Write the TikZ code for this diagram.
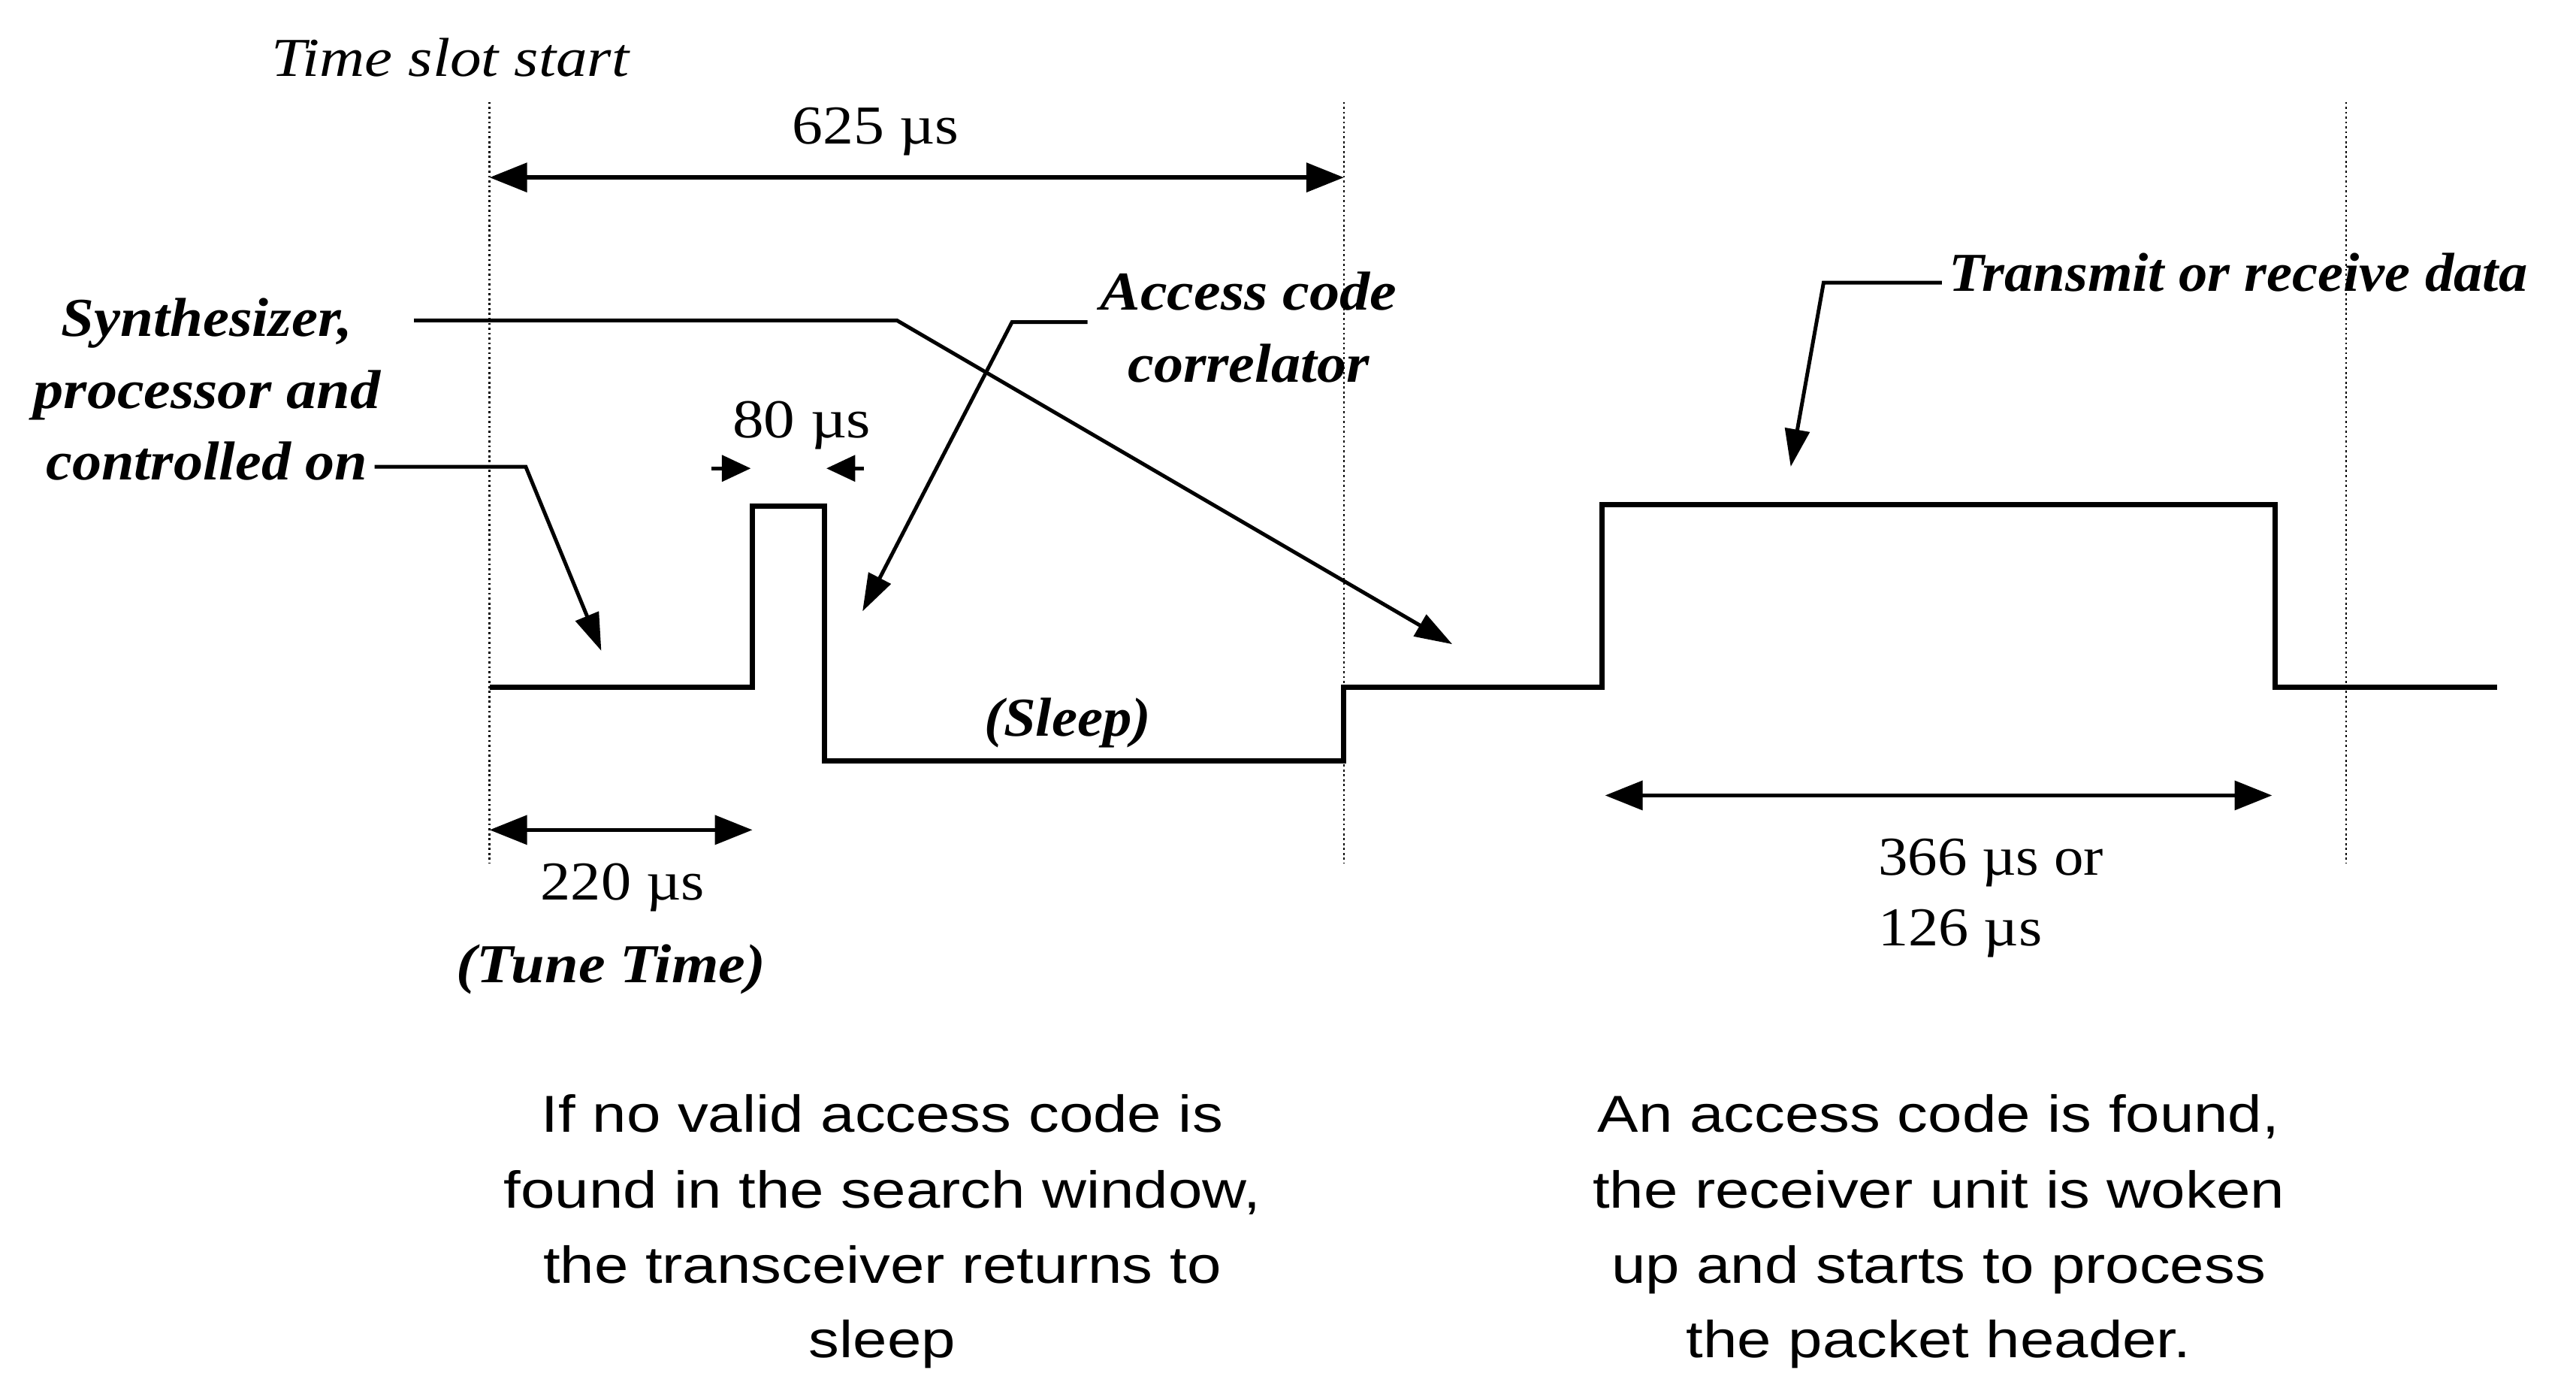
\documentclass[tikz,border=0pt]{standalone}
\usepackage{fontspec}
\setmainfont{Liberation Serif}
\newfontfamily\notefont{Liberation Sans}
\usetikzlibrary{arrows.meta}
% horizontally widened text, factor as the optional argument
\newcommand{\wideserif}[2][1.09]{\scalebox{#1}[1]{#2}}
\newcommand{\widesans}[1]{\scalebox{1.18}[1]{#1}}
\tikzset{
  signal/.style={line width=1.8pt, line join=miter},
  guide/.style={densely dotted, line width=0.7pt},
  dim/.style={line width=1.4pt, {Triangle[length=13pt,width=10pt]}-{Triangle[length=13pt,width=10pt]}},
  pointer/.style={line width=1.3pt, -{Triangle[length=13pt,width=8.5pt]}},
  tick/.style={line width=1.3pt, -{Triangle[length=10pt,width=9pt]}},
  lbl/.style={inner sep=0pt, font=\fontsize{19}{24.8}\selectfont\bfseries\itshape},
  num/.style={inner sep=0pt, font=\fontsize{19}{24}\selectfont},
  note/.style={inner sep=0pt, anchor=base, font=\fontsize{18}{26}\selectfont\notefont}
}
\begin{document}
\begin{tikzpicture}[x=0.02cm, y=-0.02cm]
\useasboundingbox (0,0) rectangle (1568,837);

% slot boundaries
\coordinate (g1t) at (298,62);  \coordinate (g1b) at (298,525);
\coordinate (g2t) at (818,62);  \coordinate (g2b) at (818,525);
\coordinate (g3t) at (1428,62); \coordinate (g3b) at (1428,525);
\draw[guide] (g1t) -- (g1b);
\draw[guide] (g2t) -- (g2b);
\draw[guide] (g3t) -- (g3b);

\node[inner sep=0pt, font=\fontsize{19}{24}\selectfont\itshape] (slot) at (274,35) {\wideserif[1.14]{Time slot start}};

% 625 us slot length
\coordinate (s1) at (298,108); \coordinate (s2) at (818,108);
\draw[dim] (s1) -- (s2);
\node[num] (t625) at (533,80) {\wideserif[1.12]{625 µs}};

% waveform
\coordinate (w0) at (298,418);
\coordinate (w1) at (458,418);
\coordinate (w2) at (458,308);
\coordinate (w3) at (502,308);
\coordinate (w4) at (502,463);
\coordinate (w5) at (818,463);
\coordinate (w6) at (818,418);
\coordinate (w7) at (975,418);
\coordinate (w8) at (975,307);
\coordinate (w9) at (1385,307);
\coordinate (w10) at (1385,418);
\coordinate (w11) at (1520,418);
\draw[signal] (w0) -- (w1) -- (w2) -- (w3) -- (w4) -- (w5) -- (w6) -- (w7) -- (w8) -- (w9) -- (w10) -- (w11);

% 80 us window
\node[num] (t80) at (488,259) {\wideserif[1.14]{80 µs}};
\coordinate (a1) at (433,285); \coordinate (a2) at (457,285);
\coordinate (b1) at (526,285); \coordinate (b2) at (503,285);
\draw[tick] (a1) -- (a2);
\draw[tick] (b1) -- (b2);

% synthesizer label and its pointers
\node[lbl, align=center] (synth) at (126,237) {\wideserif[1.08]{Synthesizer,}\\\wideserif[1.1]{processor and}\\\wideserif[1.07]{controlled on}};
\coordinate (c1) at (228,284); \coordinate (c2) at (320,284); \coordinate (c3) at (366,396);
\draw[pointer] (c1) -- (c2) -- (c3);
\coordinate (d1) at (252,195); \coordinate (d2) at (546,195); \coordinate (d3) at (884,392);
\draw[pointer] (d1) -- (d2) -- (d3);

% access code correlator
\node[lbl, align=center, font=\fontsize{19}{25}\selectfont\bfseries\itshape] (acc) at (760,199) {\wideserif[1.1]{Access code}\\\wideserif[1.07]{correlator}};
\coordinate (e1) at (662,196); \coordinate (e2) at (616,196); \coordinate (e3) at (525,372);
\draw[pointer] (e1) -- (e2) -- (e3);

% transmit / receive
\node[lbl, anchor=west] (txrx) at (1186,166) {\wideserif[1.05]{Transmit or receive data}};
\coordinate (f1) at (1182,172); \coordinate (f2) at (1110,172); \coordinate (f3) at (1090,284);
\draw[pointer] (f1) -- (f2) -- (f3);

\node[lbl] (sleep) at (650,440) {\wideserif[1.05]{(Sleep)}};

% 220 us tune time
\coordinate (h1) at (298,505); \coordinate (h2) at (458,505);
\draw[dim] (h1) -- (h2);
\node[num] (t220) at (379,540) {\wideserif[1.1]{220 µs}};
\node[lbl] (tune) at (372,590) {\wideserif[1.1]{(Tune Time)}};

% data duration
\coordinate (k1) at (977,484); \coordinate (k2) at (1383,484);
\draw[dim] (k1) -- (k2);
\node[num, anchor=west] (t366) at (1143,525) {\wideserif[1.08]{366 µs or}};
\node[num, anchor=west] (t126) at (1143,568) {\wideserif[1.1]{126 µs}};

% explanations
\node[note] (nL1) at (537,689) {\widesans{If no valid access code is}};
\node[note] (nL2) at (537,735) {\widesans{found in the search window,}};
\node[note] (nL3) at (537,781) {\widesans{the transceiver returns to}};
\node[note] (nL4) at (537,826) {\widesans{sleep}};
\node[note] (nR1) at (1180,689) {\widesans{An access code is found,}};
\node[note] (nR2) at (1180,735) {\widesans{the receiver unit is woken}};
\node[note] (nR3) at (1180,781) {\widesans{up and starts to process}};
\node[note] (nR4) at (1180,826) {\widesans{the packet header.}};
\end{tikzpicture}
\end{document}
